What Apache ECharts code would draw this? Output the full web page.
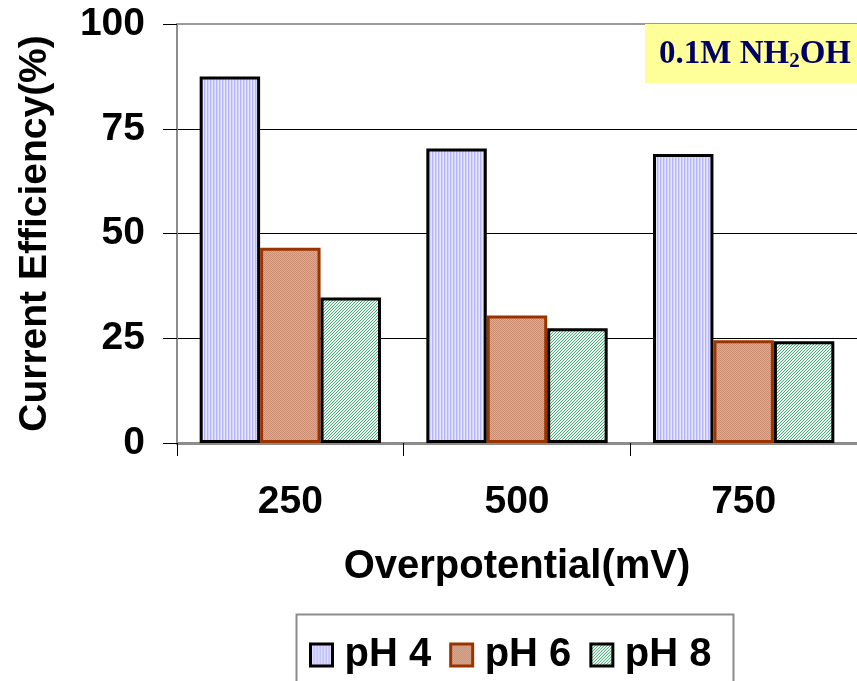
<!DOCTYPE html>
<html>
<head>
<meta charset="utf-8">
<style>
  html, body { margin: 0; padding: 0; background: #fff; }
  #chart { width: 857px; height: 681px; }
</style>
<script src="https://cdn.jsdelivr.net/npm/echarts@6/dist/echarts.min.js"></script>
</head>
<body>
<div id="chart"></div>
<script>
// Overpotential (mV) categories and current efficiency (%) per pH
const categories = ['250', '500', '750'];
const seriesNames = ['pH 4', 'pH 6', 'pH 8'];
const pH4 = [87.5, 70.3, 69.0];
const pH6 = [46.6, 30.4, 24.5];
const pH8 = [34.7, 27.4, 24.3];
const yTicks = [0, 25, 50, 75, 100];

// Small repeating canvas tiles used as bar fills
function makePattern(w, h, draw) {
  const c = document.createElement('canvas');
  c.width = w; c.height = h;
  draw(c.getContext('2d'));
  return { image: c, repeat: 'repeat' };
}
// vertical lavender stripes
const stripeFill = makePattern(3, 4, ctx => {
  const cols = ['#b4b4fb', '#d2d2ff', '#e8e8ff'];
  cols.forEach((col, i) => { ctx.fillStyle = col; ctx.fillRect(i, 0, 1, 4); });
});
// fine salmon dots
const dotFill = makePattern(2, 2, ctx => {
  ctx.fillStyle = '#dcae98'; ctx.fillRect(0, 0, 2, 2);
  ctx.fillStyle = '#c98c70'; ctx.fillRect(0, 0, 1, 1); ctx.fillRect(1, 1, 1, 1);
});
// green diagonal hatching
const hatchFill = makePattern(3, 3, ctx => {
  ctx.fillStyle = '#eef9f2'; ctx.fillRect(0, 0, 3, 3);
  ctx.fillStyle = '#45a878';
  for (let i = 0; i < 3; i++) { ctx.fillRect((2 - i + 3) % 3, i, 1, 1); }
});

const font = "'Liberation Sans', Arial, sans-serif";
const serif = "'Liberation Serif', 'Times New Roman', serif";
const chart = echarts.init(document.getElementById('chart'), null, { renderer: 'canvas' });

const barStyles = [
  { color: stripeFill, borderColor: '#000', borderWidth: 3 },
  { color: dotFill, borderColor: '#993300', borderWidth: 3 },
  { color: hatchFill, borderColor: '#000', borderWidth: 3 }
];
const values = [pH4, pH6, pH8];

chart.setOption({
  backgroundColor: '#fff',
  animation: false,
  grid: { left: 177, top: 24, width: 690, height: 419, containLabel: false },
  legend: {
    left: 304,
    top: 630,
    itemWidth: 22,
    itemHeight: 22,
    itemGap: 18,
    icon: 'rect',
    textStyle: { fontFamily: font, fontWeight: 'bold', fontSize: 40, color: '#000', padding: [0, 0, 0, 7] },
    data: seriesNames.map((n, i) => ({ name: n, itemStyle: barStyles[i] }))
  },
  xAxis: [{
    type: 'category',
    data: categories,
    axisLine: { lineStyle: { color: '#8c8c8c', width: 3 } },
    axisTick: { show: true, length: 13, lineStyle: { color: '#000', width: 1 } },
    axisLabel: { fontFamily: font, fontWeight: 'bold', fontSize: 39, color: '#000', margin: 40 },
    name: 'Overpotential(mV)',
    nameLocation: 'middle',
    nameGap: 104,
    nameTextStyle: { fontFamily: font, fontWeight: 'bold', fontSize: 40, color: '#000' }
  }, {
    type: 'category',
    position: 'top',
    data: categories,
    axisLine: { show: true, lineStyle: { color: '#9a9a9a', width: 2 } },
    axisTick: { show: false },
    axisLabel: { show: false }
  }],
  yAxis: {
    type: 'value',
    min: yTicks[0],
    max: yTicks[yTicks.length - 1],
    interval: 25,
    axisLine: { show: true, lineStyle: { color: '#8c8c8c', width: 2 } },
    axisTick: { show: true, length: 14, lineStyle: { color: '#000', width: 1 } },
    axisLabel: { fontFamily: font, fontWeight: 'bold', fontSize: 39, color: '#000', margin: 32 },
    splitLine: { show: true, lineStyle: { color: '#000', width: 1 } },
    name: 'Current Efficiency(%)',
    nameLocation: 'middle',
    nameGap: 122,
    nameTextStyle: { fontFamily: font, fontWeight: 'bold', fontSize: 39, color: '#000' }
  },
  series: seriesNames.map((n, i) => ({
    name: n,
    type: 'bar',
    data: values[i],
    barGap: '0%',
    barCategoryGap: '20%',
    itemStyle: barStyles[i],
    emphasis: { disabled: true }
  })),
  graphic: [
    {
      type: 'rect',
      right: 0,
      top: 24,
      shape: { width: 212, height: 59 },
      style: { fill: '#ffff99' },
      z: 100
    },
    {
      type: 'text',
      right: 6,
      top: 36,
      style: {
        text: '{m|0.1M NH}{s|2}{m|OH}',
        rich: {
          m: { fontFamily: serif, fontWeight: 'bold', fontSize: 33, fill: '#000066', lineHeight: 36 },
          s: { fontFamily: serif, fontWeight: 'bold', fontSize: 21, fill: '#000066', lineHeight: 36, padding: [15, 0, 0, 0] }
        }
      },
      z: 101
    },
    {
      type: 'rect',
      left: 294,
      top: 612,
      shape: { width: 437, height: 100 },
      style: { fill: 'none', stroke: '#8c8c8c', lineWidth: 2 },
      z: 0
    }
  ]
});
</script>
</body>
</html>
